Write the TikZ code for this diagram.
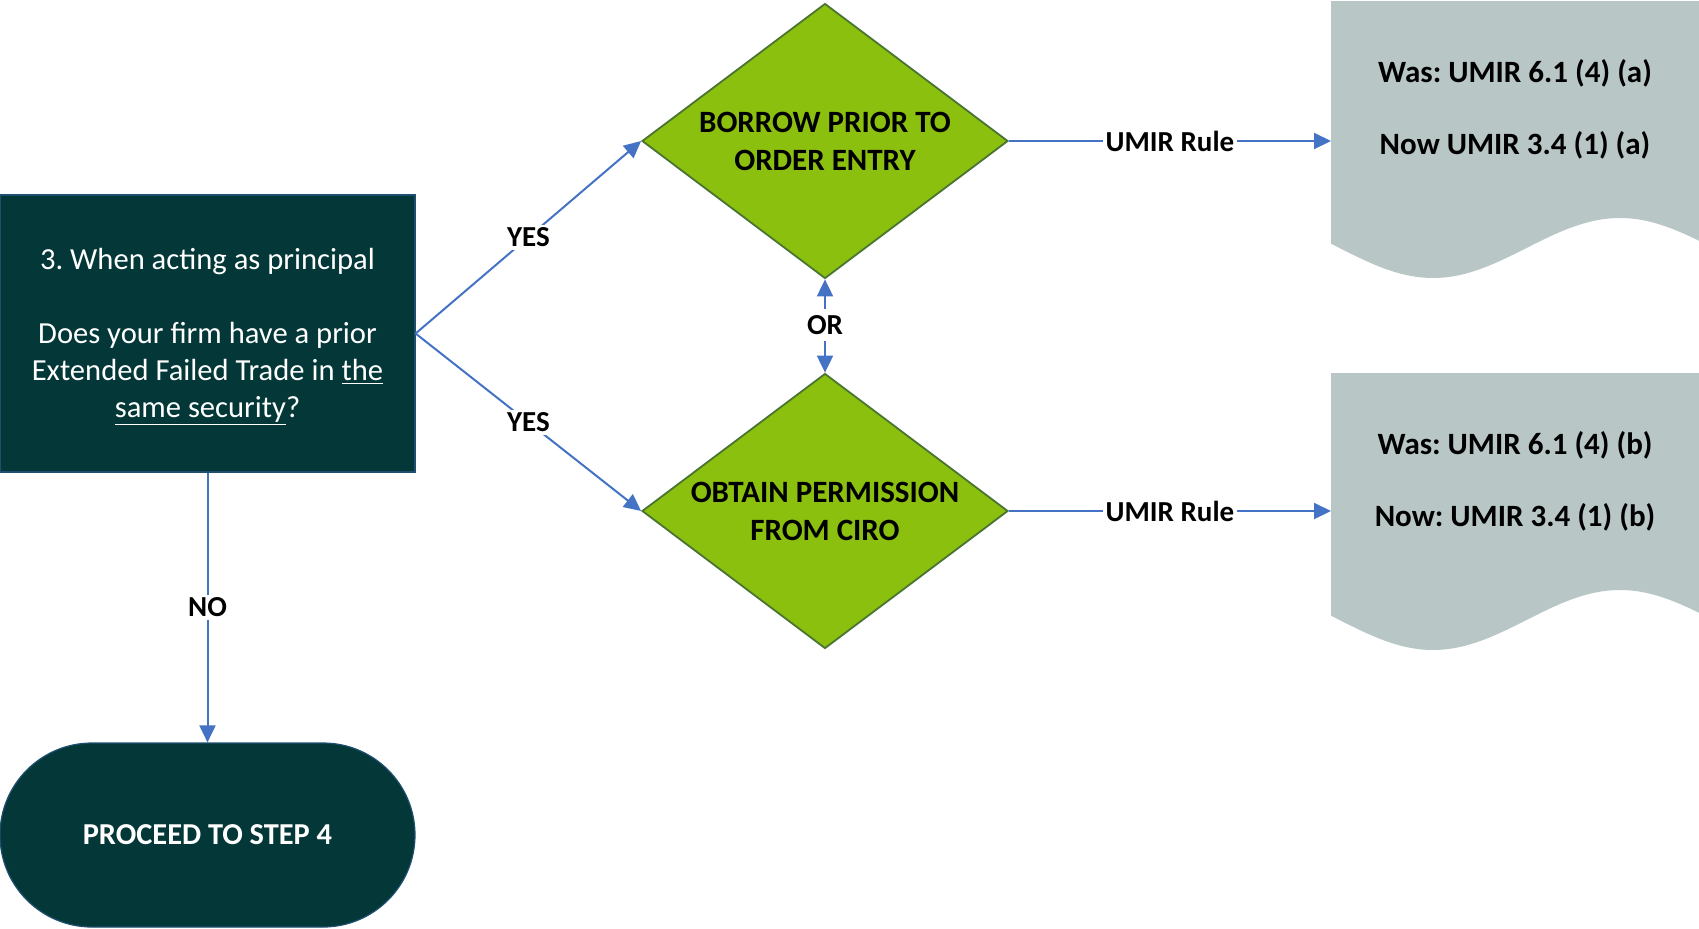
\documentclass[tikz,border=0pt]{standalone}
\usepackage{fontspec}
\setmainfont{Carlito}
\usetikzlibrary{arrows.meta,shapes.geometric}
\frenchspacing

\definecolor{deepteal}{HTML}{043838}
\definecolor{leafgreen}{HTML}{8CC00E}
\definecolor{leafedge}{HTML}{4A7431}
\definecolor{docgray}{RGB}{185,198,198}
\definecolor{linkblue}{HTML}{4472C4}

\tikzset{
  qbox/.style={rectangle, fill=deepteal, draw=linkblue!40!deepteal, line width=0.6pt,
    minimum width=207.5pt, minimum height=138.5pt, inner sep=0pt},
  qtext/.style={text=white, align=center, inner sep=0pt,
    font=\fontsize{15.3}{18.5}\selectfont},
  choice/.style={diamond, fill=leafgreen, draw=leafedge, line width=0.9pt,
    minimum width=183pt, minimum height=137.5pt, inner sep=0pt, aspect=1.33,
    align=center, font=\bfseries\fontsize{15.5}{19}\selectfont},
  terminal/.style={rectangle, rounded corners=46pt, fill=deepteal,
    draw=linkblue!40!deepteal, line width=0.6pt,
    minimum width=207.5pt, minimum height=92pt, inner sep=0pt,
    text=white, font=\bfseries\fontsize{15.2}{18}\selectfont},
  doctext/.style={align=center, font=\bfseries\fontsize{15.5}{19}\selectfont},
  lab/.style={fill=white, inner sep=1.5pt, font=\bfseries\fontsize{14.5}{17}\selectfont},
  link/.style={draw=linkblue, line width=1pt, -{Triangle[length=8.5pt,width=8pt]}}
}

\begin{document}
\begin{tikzpicture}[x=0.5pt, y=-0.5pt]
  \useasboundingbox (0,0) rectangle (1699,928);

  % document shapes with wavy bottom edge
  \fill[docgray] (1331,1) -- (1699,1)
    -- plot[domain=1699:1331, samples=80] (\x, {248+30*cos((\x-1433)/187*180)})
    -- cycle;
  \fill[docgray] (1331,373) -- (1699,373)
    -- plot[domain=1699:1331, samples=80] (\x, {620+30*cos((\x-1433)/187*180)})
    -- cycle;
  \node[minimum width=184pt, minimum height=124pt, inner sep=0pt, anchor=north west]
    (doc1) at (1331,1) {};
  \node[minimum width=184pt, minimum height=124pt, inner sep=0pt, anchor=north west]
    (doc2) at (1331,373) {};
  \node[doctext] (rule1) at (1515,109) {Was: UMIR 6.1 (4) (a)\\[17pt]Now UMIR 3.4 (1) (a)};
  \node[doctext] (rule2) at (1515,481) {Was: UMIR 6.1 (4) (b)\\[17pt]Now: UMIR 3.4 (1) (b)};

  % question box
  \node[qbox] (ask) at (207.5,333.5) {};
  \node[qtext] (askq) at ([yshift=-1.7pt]ask.center)
    {3. When acting as principal\\[18.5pt]
     Does your firm have a prior\\
     Extended Failed Trade in \underline{the}\\
     \underline{same security}?};

  % decision diamonds
  \node[choice] (borrow) at (825,141) {BORROW PRIOR TO\\ORDER ENTRY};
  \node[choice] (permit) at (825,511) {OBTAIN PERMISSION\\FROM CIRO};

  % end terminal
  \node[terminal] (next) at (207.5,835) {PROCEED TO STEP 4};

  % connectors
  \draw[link] (ask.east) -- node[lab] {YES} (borrow.west);
  \draw[link] (ask.east) -- node[lab] {YES} (permit.west);
  \draw[link] (ask.south) -- node[lab] {NO} (next.north);

  \node[lab, inner sep=3pt] (either) at (825,325) {OR};
  \draw[link] (either) -- (borrow.south);
  \draw[link] (either) -- (permit.north);

  \draw[link] (borrow.east) -- node[lab] {UMIR Rule} (borrow.east -| doc1.west);
  \draw[link] (permit.east) -- node[lab] {UMIR Rule} (permit.east -| doc2.west);
\end{tikzpicture}
\end{document}
